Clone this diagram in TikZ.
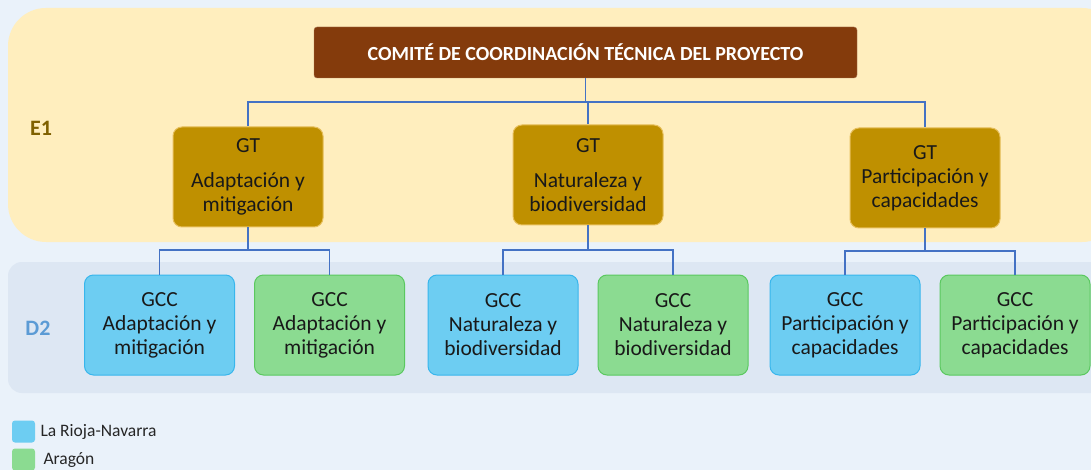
\documentclass[tikz,border=0pt]{standalone}
\usepackage{fontspec}
\setmainfont{Carlito}
\definecolor{bgc}{RGB}{234,242,250}
\definecolor{panelE}{RGB}{255,238,190}
\definecolor{panelD}{RGB}{221,231,243}
\definecolor{brownc}{RGB}{132,59,12}
\definecolor{goldc}{RGB}{191,144,0}
\definecolor{goldd}{RGB}{230,190,90}
\definecolor{bluec}{RGB}{109,205,242}
\definecolor{blued}{RGB}{56,182,236}
\definecolor{greenc}{RGB}{139,219,145}
\definecolor{greend}{RGB}{90,200,95}
\definecolor{linec}{RGB}{68,114,196}
\definecolor{eonec}{RGB}{127,96,0}
\definecolor{dtwoc}{RGB}{91,155,213}
\begin{document}
\begin{tikzpicture}[x=1pt,y=-1pt,
  box/.style={rounded corners=9pt, minimum width=150pt, minimum height=100pt, align=center, font=\fontsize{21.5}{24}\selectfont, text=black!90, line width=1pt, inner sep=1pt},
  gtbox/.style={box, fill=goldc, draw=goldd},
  bbox/.style={box, fill=bluec, draw=blued},
  gbox/.style={box, fill=greenc, draw=greend},
  conn/.style={draw=linec, line width=1.1pt},
  lbl/.style={font=\fontsize{22}{22}\selectfont\bfseries},
  leg/.style={rounded corners=3pt, minimum width=23pt, minimum height=22pt, inner sep=0pt}
]
\useasboundingbox (0,0) rectangle (1091,470);
\fill[bgc] (0,0) rectangle (1091,470);
% panels
\fill[panelE, rounded corners=38pt] (8,8) rectangle (1120,242);
\fill[panelD, rounded corners=14pt] (8,262) rectangle (1120,393);
\node[lbl, text=eonec] (e1) at (41,128) {E1};
\node[lbl, text=dtwoc] (d2) at (38,328) {D2};
% top
\node[rounded corners=3pt, fill=brownc, draw=brownc!70!white, minimum width=543pt, minimum height=51pt, text=white, font=\fontsize{20}{20}\selectfont\bfseries] (top) at (585.5,52.5) {COMITÉ DE COORDINACIÓN TÉCNICA DEL PROYECTO};
% GT
\node[gtbox] (gt1) at (248,177) {GT\\[11pt]Adaptación y\\mitigación};
\node[gtbox] (gt2) at (588,175) {GT\\[11pt]Naturaleza y\\biodiversidad};
\node[gtbox] (gt3) at (925,178) {GT\\Participación y\\capacidades};
% GCC
\node[bbox] (c1) at (159.5,325) {GCC\\Adaptación y\\mitigación};
\node[gbox] (c2) at (329.5,325) {GCC\\Adaptación y\\mitigación};
\node[bbox] (c3) at (503,325) {GCC\\Naturaleza y\\biodiversidad};
\node[gbox] (c4) at (673,325) {GCC\\Naturaleza y\\biodiversidad};
\node[bbox] (c5) at (845,325) {GCC\\Participación y\\capacidades};
\node[gbox] (c6) at (1015,325) {GCC\\Participación y\\capacidades};
% connectors
\draw[conn] (top.south) -- (top.south |- 0,102) -| (gt1.north);
\draw[conn] (top.south) -- (top.south |- 0,102) -| (gt3.north);
\draw[conn] (top.south |- 0,102) -| (gt2.north);
\draw[conn] (gt1.south) -- (gt1.south |- 0,250) -| (c1.north);
\draw[conn] (gt1.south |- 0,250) -| (c2.north);
\draw[conn] (gt2.south) -- (gt2.south |- 0,250) -| (c3.north);
\draw[conn] (gt2.south |- 0,250) -| (c4.north);
\draw[conn] (gt3.south) -- (gt3.south |- 0,251) -| (c5.north);
\draw[conn] (gt3.south |- 0,251) -| (c6.north);
% legend
\node[leg, fill=bluec] (lb) at (23.5,431.5) {};
\node[leg, fill=greenc] (lg) at (23.5,459.5) {};
\node[anchor=west, font=\fontsize{17.5}{17.5}\selectfont, text=black!85] (tb) at (37,432) {La Rioja-Navarra};
\node[anchor=west, font=\fontsize{17.5}{17.5}\selectfont, text=black!85] (tg) at (40,460) {Aragón};
\end{tikzpicture}
\end{document}
